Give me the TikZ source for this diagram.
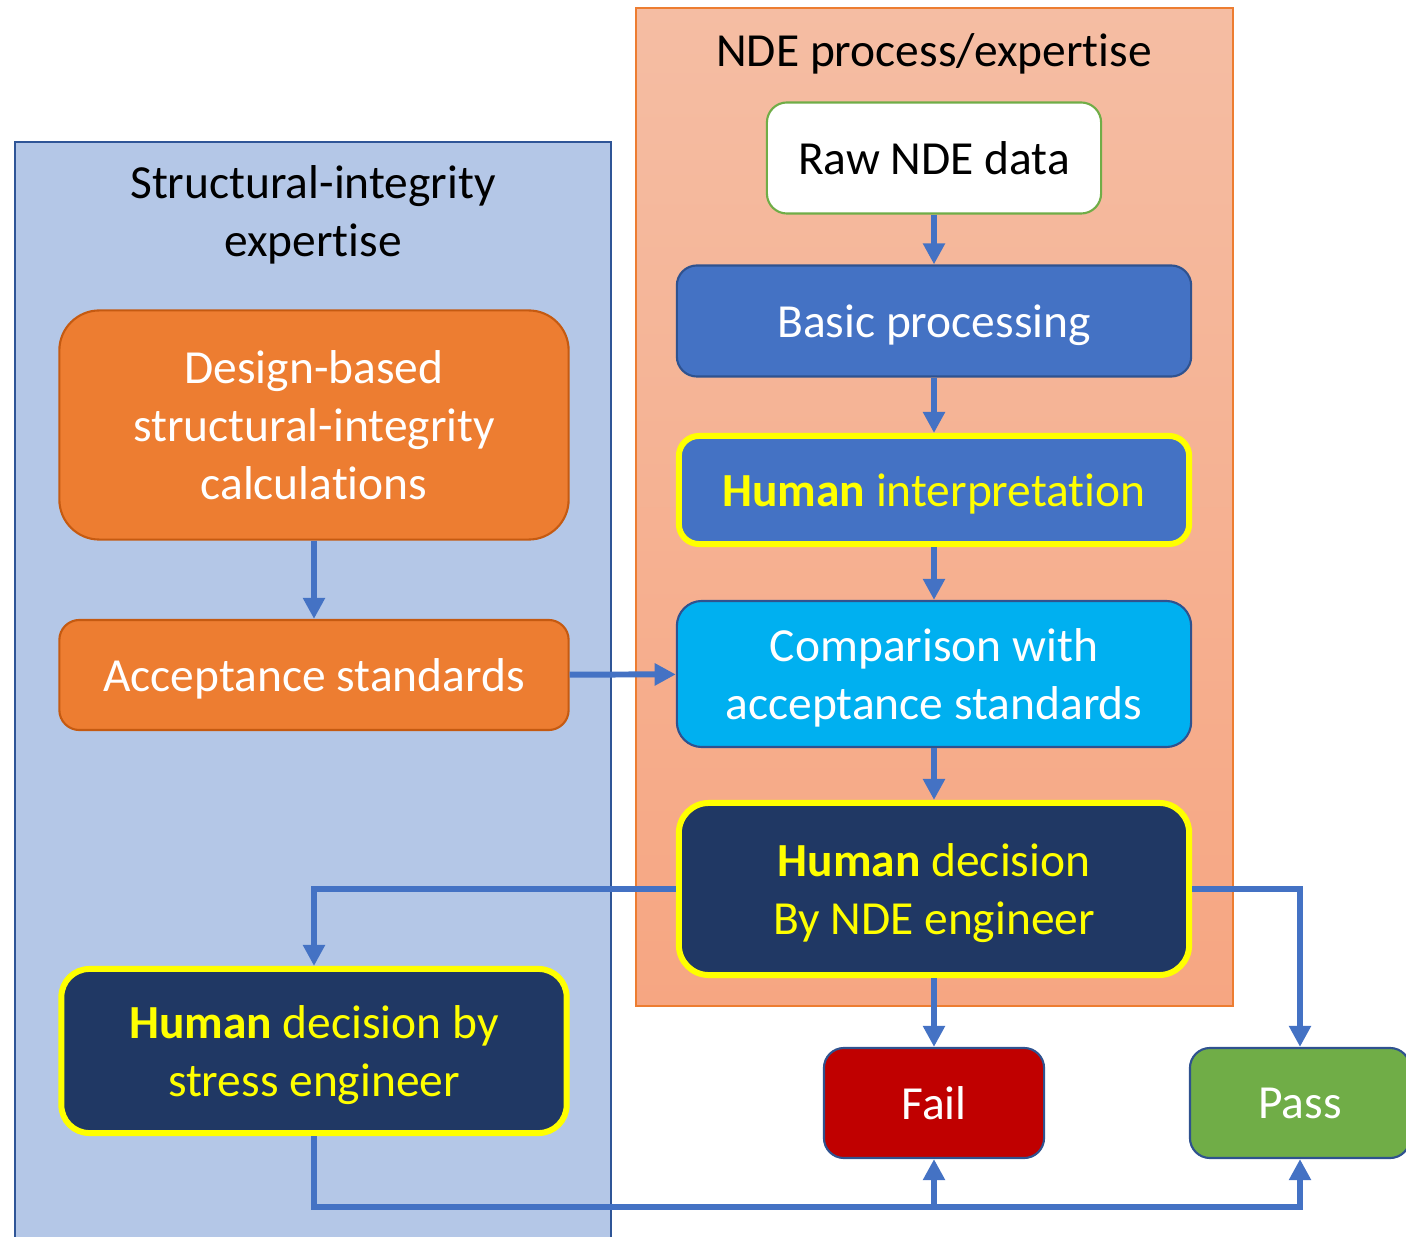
\documentclass[tikz,border=0pt]{standalone}
\usepackage{fontspec}
\setmainfont{Carlito}[Ligatures={NoCommon,NoRare,NoContextual},Contextuals=NoAlternate]
\usepackage{tikz}
\usetikzlibrary{arrows.meta}
\definecolor{sibg}{HTML}{B4C7E7}
\definecolor{siline}{HTML}{2F5597}
\definecolor{ndetop}{HTML}{F5BDA3}
\definecolor{ndebot}{HTML}{F6A682}
\definecolor{ndeline}{HTML}{ED7D31}
\definecolor{flowblue}{HTML}{4472C4}
\definecolor{boxline}{HTML}{2F528F}
\definecolor{orangebox}{HTML}{ED7D31}
\definecolor{orangeline}{HTML}{C55A11}
\definecolor{cyanbox}{HTML}{00B0F0}
\definecolor{navybox}{HTML}{203864}
\definecolor{failred}{HTML}{C00000}
\definecolor{passgreen}{HTML}{70AD47}
\definecolor{hlyellow}{HTML}{FFFF00}

\begin{document}
\begin{tikzpicture}[x=0.01cm,y=-0.01cm,
	every node/.style={font=\fontsize{13.5}{16.4}\selectfont,text depth=0pt},
	box/.style={draw=boxline,line width=0.6pt,align=center,inner sep=0pt,text=white,rounded corners=0.2cm},
	hbox/.style={box,draw=hlyellow,line width=1.7pt,text=hlyellow},
	flow/.style={draw=flowblue,line width=1.7pt,-{Triangle[width=6pt,length=6pt]}}]
	\useasboundingbox (0,0) rectangle (1406,1237);
	\fill[sibg,draw=siline,line width=0.6pt] (15,142) rectangle (611,1260);
	\shade[top color=ndetop,bottom color=ndebot,draw=ndeline,line width=0.4pt] (636,8) rectangle (1233,1006);
	\node (ndetitle) at (934,50) {NDE process/expertise};
	\node[align=center] (sititle) at (313,211) {Structural-integrity\\expertise};
	\node[box,fill=white,draw=passgreen,text=black,minimum width=3.34cm,minimum height=1.11cm] (raw) at (934,158) {Raw NDE data};
	\node[box,fill=flowblue,minimum width=5.14cm,minimum height=1.11cm] (basic) at (934,321) {Basic processing};
	\node[hbox,fill=flowblue,minimum width=5.1cm,minimum height=1.08cm] (interp) at (934,490) {\textbf{Human} interpretation};
	\node[box,fill=cyanbox,minimum width=5.14cm,minimum height=1.46cm,rounded corners=0.25cm] (compare) at (934,674) {Comparison with\\acceptance standards};
	\node[hbox,fill=navybox,minimum width=5.1cm,minimum height=1.72cm,rounded corners=0.3cm] (ndedec) at (934,889) {\textbf{Human} decision\\By NDE engineer};
	\node[box,fill=orangebox,draw=orangeline,minimum width=5.09cm,minimum height=2.29cm,rounded corners=0.4cm] (design) at (314,425) {Design-based\\structural-integrity\\calculations};
	\node[box,fill=orangebox,draw=orangeline,minimum width=5.09cm,minimum height=1.1cm] (accept) at (314,675) {Acceptance standards};
	\node[hbox,fill=navybox,minimum width=5.05cm,minimum height=1.64cm,rounded corners=0.28cm] (stressdec) at (314,1051) {\textbf{Human} decision by\\stress engineer};
	\node[box,fill=failred,minimum width=2.2cm,minimum height=1.1cm] (fail) at (934,1103) {Fail};
	\node[box,fill=passgreen,minimum width=2.2cm,minimum height=1.1cm] (pass) at (1300,1103) {Pass};
	\coordinate (bus) at (0,1207);
	\draw[flow] (raw) -- (basic);
	\draw[flow] (basic) -- (interp);
	\draw[flow] (interp) -- (compare);
	\draw[flow] (compare) -- (ndedec);
	\draw[flow] (design) -- (accept);
	\draw[flow] (accept) -- (compare);
	\draw[flow] (ndedec.west) -| (stressdec.north);
	\draw[flow] (ndedec.east) -| (pass.north);
	\draw[flow] (ndedec) -- (fail);
	\draw[flow] (stressdec.south) -- (stressdec.south |- bus) -| (pass.south);
	\draw[flow] (fail.south |- bus) -- (fail.south);
\end{tikzpicture}
\end{document}
